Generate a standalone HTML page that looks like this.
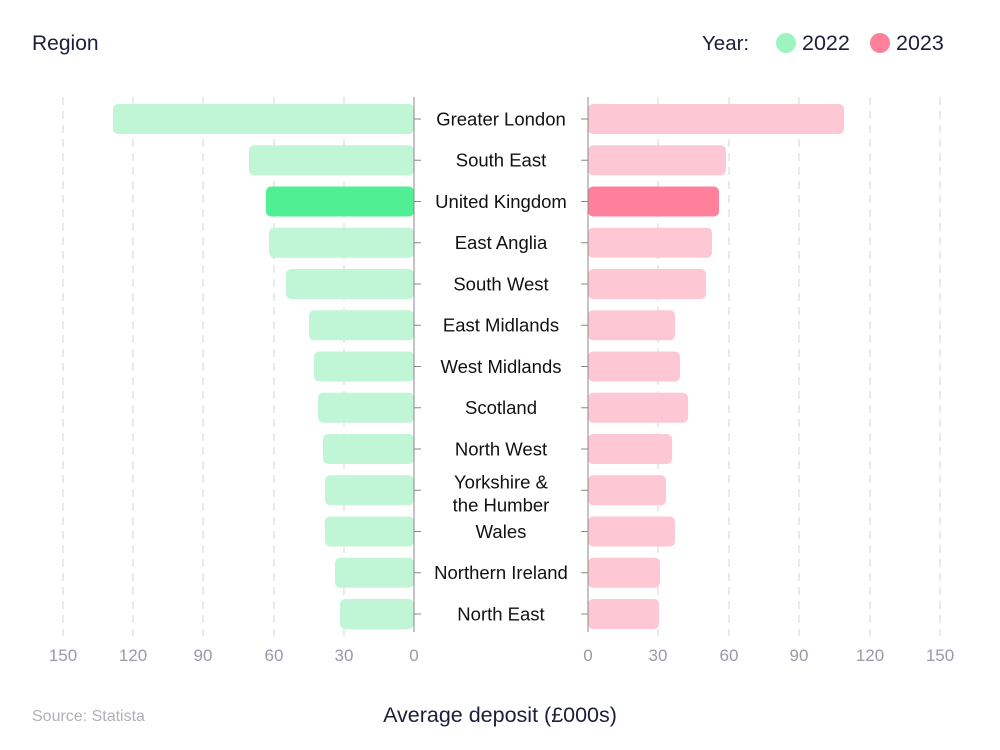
<!DOCTYPE html>
<html><head><style>body{margin:0;background:#fff}svg{display:block}text{font-family:"Liberation Sans",sans-serif}</style></head><body>
<svg width="1000" height="750" xmlns="http://www.w3.org/2000/svg">
<text x="32" y="50" font-size="21" fill="#1a1f3a">Region</text>
<text x="702" y="50" font-size="20.5" fill="#1a1f3a">Year:</text>
<circle cx="786" cy="43" r="10" fill="#9cf5c0"/><text x="802" y="50" font-size="21.5" fill="#1a1f3a">2022</text>
<circle cx="880" cy="43" r="10" fill="#fe809b"/><text x="896" y="50" font-size="21.5" fill="#1a1f3a">2023</text>
<g stroke="#d5d5d5" stroke-dasharray="8,6" stroke-width="1">
<line x1="63" y1="97" x2="63" y2="636"/><line x1="133" y1="97" x2="133" y2="636"/><line x1="203" y1="97" x2="203" y2="636"/><line x1="274" y1="97" x2="274" y2="636"/><line x1="344" y1="97" x2="344" y2="636"/>
<line x1="658" y1="97" x2="658" y2="636"/><line x1="729" y1="97" x2="729" y2="636"/><line x1="799" y1="97" x2="799" y2="636"/><line x1="870" y1="97" x2="870" y2="636"/><line x1="940" y1="97" x2="940" y2="636"/>
</g>
<g fill="#c0f6d6">
<rect x="113" y="104" width="301" height="30" rx="5"/>
<rect x="249" y="145.25" width="165" height="30" rx="5"/>
<rect x="266" y="186.5" width="148" height="30" rx="5" fill="#50ef94"/>
<rect x="269" y="227.75" width="145" height="30" rx="5"/>
<rect x="286" y="269" width="128" height="30" rx="5"/>
<rect x="309" y="310.25" width="105" height="30" rx="5"/>
<rect x="314" y="351.5" width="100" height="30" rx="5"/>
<rect x="318" y="392.75" width="96" height="30" rx="5"/>
<rect x="323" y="434" width="91" height="30" rx="5"/>
<rect x="325" y="475.25" width="89" height="30" rx="5"/>
<rect x="325" y="516.5" width="89" height="30" rx="5"/>
<rect x="335" y="557.75" width="79" height="30" rx="5"/>
<rect x="340" y="599" width="74" height="30" rx="5"/>
</g>
<g fill="#fdc8d3">
<rect x="588" y="104" width="256" height="30" rx="5"/>
<rect x="588" y="145.25" width="138" height="30" rx="5"/>
<rect x="588" y="186.5" width="131" height="30" rx="5" fill="#fe809b"/>
<rect x="588" y="227.75" width="124" height="30" rx="5"/>
<rect x="588" y="269" width="118" height="30" rx="5"/>
<rect x="588" y="310.25" width="87" height="30" rx="5"/>
<rect x="588" y="351.5" width="92" height="30" rx="5"/>
<rect x="588" y="392.75" width="100" height="30" rx="5"/>
<rect x="588" y="434" width="84" height="30" rx="5"/>
<rect x="588" y="475.25" width="78" height="30" rx="5"/>
<rect x="588" y="516.5" width="87" height="30" rx="5"/>
<rect x="588" y="557.75" width="72" height="30" rx="5"/>
<rect x="588" y="599" width="71" height="30" rx="5"/>
</g>
<line x1="414" y1="97" x2="414" y2="632" stroke="#888"/>
<line x1="588" y1="97" x2="588" y2="632" stroke="#888"/>
<g stroke="#888">
<path d="M414 119h7M581 119h7M414 160.25h7M581 160.25h7M414 201.5h7M581 201.5h7M414 242.75h7M581 242.75h7M414 284h7M581 284h7M414 325.25h7M581 325.25h7M414 366.5h7M581 366.5h7M414 407.75h7M581 407.75h7M414 449h7M581 449h7M414 490.25h7M581 490.25h7M414 531.5h7M581 531.5h7M414 572.75h7M581 572.75h7M414 614h7M581 614h7"/>
</g>
<g font-size="18.5" fill="#111" text-anchor="middle">
<text x="501" y="125.5">Greater London</text>
<text x="501" y="166.5">South East</text>
<text x="501" y="208">United Kingdom</text>
<text x="501" y="249">East Anglia</text>
<text x="501" y="290.5">South West</text>
<text x="501" y="331.5">East Midlands</text>
<text x="501" y="373">West Midlands</text>
<text x="501" y="414">Scotland</text>
<text x="501" y="455.5">North West</text>
<text x="501" y="488.5">Yorkshire &amp;</text>
<text x="501" y="511.5">the Humber</text>
<text x="501" y="538">Wales</text>
<text x="501" y="579">Northern Ireland</text>
<text x="501" y="620.5">North East</text>
</g>
<g font-size="17" fill="#9a9aa6" text-anchor="middle">
<text x="63" y="661">150</text><text x="133" y="661">120</text><text x="203" y="661">90</text><text x="274" y="661">60</text><text x="344" y="661">30</text><text x="414" y="661">0</text>
<text x="588" y="661">0</text><text x="658" y="661">30</text><text x="729" y="661">60</text><text x="799" y="661">90</text><text x="870" y="661">120</text><text x="940" y="661">150</text>
</g>
<text x="32" y="721" font-size="16" fill="#b0b0b8">Source: Statista</text>
<text x="500" y="722" font-size="21.5" fill="#1a1f3a" text-anchor="middle">Average deposit (£000s)</text>
</svg>
</body></html>
